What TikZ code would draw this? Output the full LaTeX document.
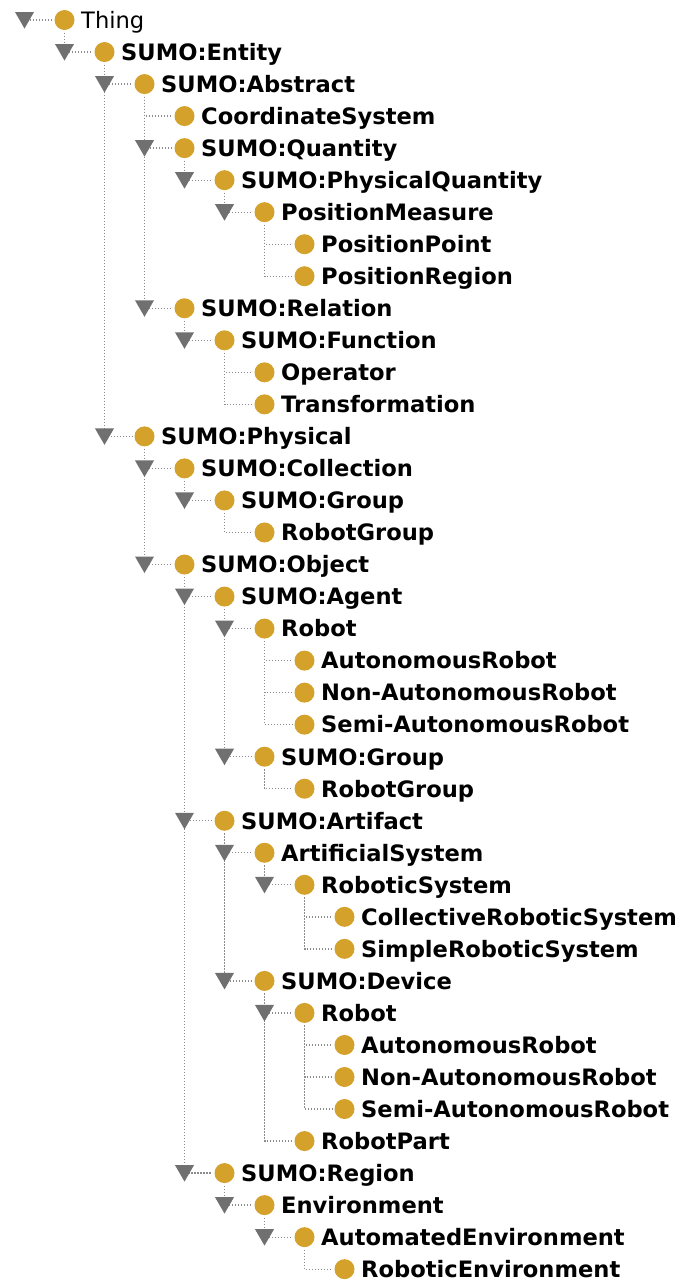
\documentclass[tikz,border=0pt]{standalone}
\usepackage{fontspec}
\setmainfont{DejaVu Sans}
\usetikzlibrary{shapes.geometric,backgrounds}
\definecolor{bulletgold}{RGB}{212,161,42}
\definecolor{trigray}{RGB}{112,112,112}
\definecolor{dotgray}{RGB}{140,140,140}
\tikzset{
  bul/.style={circle,fill=bulletgold,minimum size=20pt,inner sep=0pt,outer sep=2.5pt},
  tri/.style={regular polygon,regular polygon sides=3,shape border rotate=180,fill=trigray,minimum size=22pt,inner sep=0pt,outer sep=0pt},
  lab/.style={anchor=base west,inner sep=0pt,font=\bfseries\fontsize{22.6}{26}\selectfont},
  labreg/.style={anchor=base west,inner sep=0pt,font=\fontsize{22.6}{26}\selectfont},
  conn/.style={draw=dotgray,line width=1.3pt,dash pattern=on 1.3pt off 1.7pt}
}
\newcommand\rowY[1]{20+32.03*#1}
% bullet + label: #1 row, #2 level, #3 text
\newcommand\Item[3]{%
  \node[bul] (b#1) at ({64.5+40*#2},{\rowY{#1}}) {};
  \node[lab] (l#1) at ({64.5+40*#2+16.5},{\rowY{#1}+8.3}) {#3};}
% triangle for expandable row: #1 row, #2 level
\newcommand\Tri[2]{%
  \node[tri] (t#1) at ({24.5+40*#2},{\rowY{#1}-2.5}) {};}
\begin{document}
\begin{tikzpicture}[x=1pt,y=-1pt]
\useasboundingbox (0,0) rectangle (691,1283);
% rows
\node[bul] (b0) at (64.5,{\rowY{0}}) {};
\node[labreg] (l0) at (81,{\rowY{0}+8.3}) {Thing};
\Item{1}{1}{SUMO:Entity}
\Item{2}{2}{SUMO:Abstract}
\Item{3}{3}{CoordinateSystem}
\Item{4}{3}{SUMO:Quantity}
\Item{5}{4}{SUMO:PhysicalQuantity}
\Item{6}{5}{PositionMeasure}
\Item{7}{6}{PositionPoint}
\Item{8}{6}{PositionRegion}
\Item{9}{3}{SUMO:Relation}
\Item{10}{4}{SUMO:Function}
\Item{11}{5}{Operator}
\Item{12}{5}{Transformation}
\Item{13}{2}{SUMO:Physical}
\Item{14}{3}{SUMO:Collection}
\Item{15}{4}{SUMO:Group}
\Item{16}{5}{RobotGroup}
\Item{17}{3}{SUMO:Object}
\Item{18}{4}{SUMO:Agent}
\Item{19}{5}{Robot}
\Item{20}{6}{AutonomousRobot}
\Item{21}{6}{Non-AutonomousRobot}
\Item{22}{6}{Semi-AutonomousRobot}
\Item{23}{5}{SUMO:Group}
\Item{24}{6}{RobotGroup}
\Item{25}{4}{SUMO:Artifact}
\Item{26}{5}{ArtificialSystem}
\Item{27}{6}{RoboticSystem}
\Item{28}{7}{CollectiveRoboticSystem}
\Item{29}{7}{SimpleRoboticSystem}
\Item{30}{5}{SUMO:Device}
\Item{31}{6}{Robot}
\Item{32}{7}{AutonomousRobot}
\Item{33}{7}{Non-AutonomousRobot}
\Item{34}{7}{Semi-AutonomousRobot}
\Item{35}{6}{RobotPart}
\Item{36}{4}{SUMO:Region}
\Item{37}{5}{Environment}
\Item{38}{6}{AutomatedEnvironment}
\Item{39}{7}{RoboticEnvironment}
% triangles (expandable rows)
\Tri{0}{0}\Tri{1}{1}\Tri{2}{2}\Tri{4}{3}\Tri{5}{4}\Tri{6}{5}
\Tri{9}{3}\Tri{10}{4}\Tri{13}{2}\Tri{14}{3}\Tri{15}{4}\Tri{17}{3}
\Tri{18}{4}\Tri{19}{5}\Tri{23}{5}\Tri{25}{4}\Tri{26}{5}\Tri{27}{6}
\Tri{30}{5}\Tri{31}{6}\Tri{36}{4}\Tri{37}{5}\Tri{38}{6}
% connectors
\begin{pgfonlayer}{background}
\fill[white] (0,0) rectangle (691,1283);
\draw[conn] (b0.west) -- (b0.west -| t0.center);
\foreach \p/\c in {0/1, 1/2, 2/3, 2/4, 4/5, 5/6, 6/7, 6/8, 2/9, 9/10, 10/11, 10/12,
  1/13, 13/14, 14/15, 15/16, 13/17, 17/18, 18/19, 19/20, 19/21, 19/22, 18/23, 23/24,
  17/25, 25/26, 26/27, 27/28, 27/29, 25/30, 30/31, 31/32, 31/33, 31/34, 30/35,
  17/36, 36/37, 37/38, 38/39}
  \draw[conn] (b\p.south) |- (b\c.west);
\end{pgfonlayer}
\end{tikzpicture}
\end{document}
